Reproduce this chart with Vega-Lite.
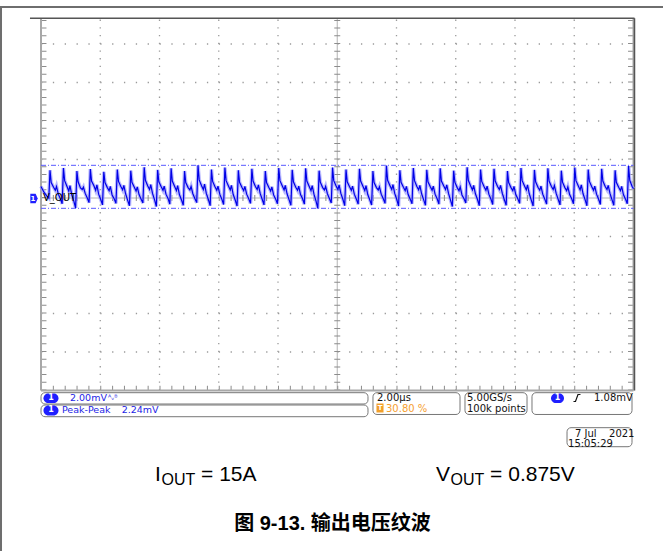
{
"$schema": "https://vega.github.io/schema/vega-lite/v6.json",
"width": 663, "height": 551, "padding": 0, "autosize": {"type": "none"},
"background": "white",
"config": {"view": {"stroke": null}},
"datasets": {
"pageFrame": [{"t":-0.692,"t2":10.498,"v":4.961,"v2":4.961},{"t":-0.675,"t2":-0.675,"v":4.961,"v2":-9.169}],
"scopeEdge": [{"t":-0.186,"t2":10.017,"v":4.667,"v2":4.667},{"t":10.017,"t2":10.017,"v":4.667,"v2":-5}],
"border": [{"t":0,"t2":0,"v":-5,"v2":4.667},{"t":10,"t2":10,"v":-5,"v2":4.667},{"t":0,"t2":10,"v":-5,"v2":-5}],
"edgeTicksV": [{"t":0.05,"t2":0.05,"v":-5,"v2":4.667},{"t":9.95,"t2":9.95,"v":-5,"v2":4.667}],
"edgeTicksH": [{"t":0,"t2":10,"v":-4.94,"v2":-4.94}],
"vgrid": [{"t":1,"t2":1,"v":-5,"v2":4.667},{"t":2,"t2":2,"v":-5,"v2":4.667},{"t":3,"t2":3,"v":-5,"v2":4.667},{"t":4,"t2":4,"v":-5,"v2":4.667},{"t":6,"t2":6,"v":-5,"v2":4.667},{"t":7,"t2":7,"v":-5,"v2":4.667},{"t":8,"t2":8,"v":-5,"v2":4.667},{"t":9,"t2":9,"v":-5,"v2":4.667}],
"hgrid": [{"t":0,"t2":10,"v":-4,"v2":-4},{"t":0,"t2":10,"v":-3,"v2":-3},{"t":0,"t2":10,"v":-2,"v2":-2},{"t":0,"t2":10,"v":-1,"v2":-1},{"t":0,"t2":10,"v":1,"v2":1},{"t":0,"t2":10,"v":2,"v2":2},{"t":0,"t2":10,"v":3,"v2":3},{"t":0,"t2":10,"v":4,"v2":4}],
"center": [{"t":5,"t2":5,"v":-5,"v2":4.667},{"t":0,"t2":10,"v":0,"v2":0}],
"centerTicksV": [{"t":5,"t2":5,"v":-5,"v2":4.667}],
"centerTicksH": [{"t":0,"t2":10,"v":0,"v2":0}],
"cursors": [{"t":0,"t2":10,"v":0.849,"v2":0.849},{"t":0,"t2":10,"v":-0.268,"v2":-0.268}],
"wave": [
{"t":0,"v":0.3},{"t":0.05,"v":0.15},{"t":0.1,"v":0.05},{"t":0.132,"v":0.0},
{"t":0.152,"v":0.72},{"t":0.172,"v":0.40},{"t":0.212,"v":0.28},{"t":0.242,"v":0.20},{"t":0.262,"v":0.30},{"t":0.292,"v":0.10},{"t":0.327,"v":-0.02},{"t":0.357,"v":-0.15},
{"t":0.379,"v":0.78},{"t":0.399,"v":0.45},{"t":0.439,"v":0.30},{"t":0.469,"v":0.18},{"t":0.489,"v":0.32},{"t":0.519,"v":0.08},{"t":0.554,"v":-0.08},{"t":0.584,"v":-0.26},
{"t":0.606,"v":0.70},{"t":0.626,"v":0.42},{"t":0.666,"v":0.26},{"t":0.696,"v":0.22},{"t":0.716,"v":0.28},{"t":0.746,"v":0.12},{"t":0.781,"v":0.00},{"t":0.811,"v":-0.12},
{"t":0.833,"v":0.75},{"t":0.853,"v":0.44},{"t":0.893,"v":0.32},{"t":0.923,"v":0.20},{"t":0.943,"v":0.34},{"t":0.973,"v":0.10},{"t":1.008,"v":-0.04},{"t":1.038,"v":-0.18},
{"t":1.060,"v":0.68},{"t":1.080,"v":0.40},{"t":1.120,"v":0.27},{"t":1.150,"v":0.19},{"t":1.170,"v":0.30},{"t":1.200,"v":0.08},{"t":1.235,"v":-0.02},{"t":1.265,"v":-0.14},
{"t":1.288,"v":0.74},{"t":1.308,"v":0.43},{"t":1.348,"v":0.30},{"t":1.378,"v":0.21},{"t":1.398,"v":0.33},{"t":1.428,"v":0.11},{"t":1.463,"v":-0.06},{"t":1.493,"v":-0.20},
{"t":1.515,"v":0.71},{"t":1.535,"v":0.41},{"t":1.575,"v":0.28},{"t":1.605,"v":0.18},{"t":1.625,"v":0.29},{"t":1.655,"v":0.09},{"t":1.690,"v":-0.03},{"t":1.720,"v":-0.13},
{"t":1.742,"v":0.80},{"t":1.762,"v":0.46},{"t":1.802,"v":0.31},{"t":1.832,"v":0.22},{"t":1.852,"v":0.35},{"t":1.882,"v":0.12},{"t":1.917,"v":-0.05},{"t":1.947,"v":-0.22},
{"t":1.969,"v":0.73},{"t":1.989,"v":0.42},{"t":2.029,"v":0.29},{"t":2.059,"v":0.20},{"t":2.079,"v":0.31},{"t":2.109,"v":0.10},{"t":2.144,"v":-0.01},{"t":2.174,"v":-0.16},
{"t":2.196,"v":0.77},{"t":2.216,"v":0.44},{"t":2.256,"v":0.30},{"t":2.286,"v":0.19},{"t":2.306,"v":0.32},{"t":2.336,"v":0.09},{"t":2.371,"v":-0.05},{"t":2.401,"v":-0.19},
{"t":2.423,"v":0.70},{"t":2.443,"v":0.40},{"t":2.483,"v":0.27},{"t":2.513,"v":0.21},{"t":2.533,"v":0.30},{"t":2.563,"v":0.11},{"t":2.598,"v":-0.02},{"t":2.628,"v":-0.12},
{"t":2.650,"v":0.85},{"t":2.670,"v":0.47},{"t":2.710,"v":0.32},{"t":2.740,"v":0.22},{"t":2.760,"v":0.36},{"t":2.790,"v":0.12},{"t":2.825,"v":-0.04},{"t":2.855,"v":-0.20},
{"t":2.877,"v":0.74},{"t":2.897,"v":0.43},{"t":2.937,"v":0.29},{"t":2.967,"v":0.20},{"t":2.987,"v":0.31},{"t":3.017,"v":0.10},{"t":3.052,"v":-0.03},{"t":3.082,"v":-0.17},
{"t":3.104,"v":0.79},{"t":3.124,"v":0.45},{"t":3.164,"v":0.31},{"t":3.194,"v":0.21},{"t":3.214,"v":0.33},{"t":3.244,"v":0.09},{"t":3.279,"v":-0.06},{"t":3.309,"v":-0.21},
{"t":3.331,"v":0.72},{"t":3.351,"v":0.41},{"t":3.391,"v":0.28},{"t":3.421,"v":0.19},{"t":3.441,"v":0.30},{"t":3.471,"v":0.10},{"t":3.506,"v":-0.02},{"t":3.536,"v":-0.14},
{"t":3.559,"v":0.76},{"t":3.579,"v":0.44},{"t":3.619,"v":0.30},{"t":3.649,"v":0.22},{"t":3.669,"v":0.34},{"t":3.699,"v":0.12},{"t":3.734,"v":-0.04},{"t":3.764,"v":-0.18},
{"t":3.786,"v":0.70},{"t":3.806,"v":0.40},{"t":3.846,"v":0.27},{"t":3.876,"v":0.18},{"t":3.896,"v":0.29},{"t":3.926,"v":0.08},{"t":3.961,"v":-0.03},{"t":3.991,"v":-0.15},
{"t":4.013,"v":0.78},{"t":4.033,"v":0.45},{"t":4.073,"v":0.31},{"t":4.103,"v":0.21},{"t":4.123,"v":0.33},{"t":4.153,"v":0.11},{"t":4.188,"v":-0.05},{"t":4.218,"v":-0.19},
{"t":4.240,"v":0.73},{"t":4.260,"v":0.42},{"t":4.300,"v":0.28},{"t":4.330,"v":0.20},{"t":4.350,"v":0.31},{"t":4.380,"v":0.09},{"t":4.415,"v":-0.02},{"t":4.445,"v":-0.16},
{"t":4.467,"v":0.77},{"t":4.487,"v":0.44},{"t":4.527,"v":0.30},{"t":4.557,"v":0.19},{"t":4.577,"v":0.32},{"t":4.607,"v":0.10},{"t":4.642,"v":-0.08},{"t":4.672,"v":-0.27},
{"t":4.694,"v":0.71},{"t":4.714,"v":0.41},{"t":4.754,"v":0.27},{"t":4.784,"v":0.21},{"t":4.804,"v":0.30},{"t":4.834,"v":0.11},{"t":4.869,"v":-0.02},{"t":4.899,"v":-0.13},
{"t":4.921,"v":0.79},{"t":4.941,"v":0.45},{"t":4.981,"v":0.31},{"t":5.011,"v":0.22},{"t":5.031,"v":0.34},{"t":5.061,"v":0.12},{"t":5.096,"v":-0.04},{"t":5.126,"v":-0.20},
{"t":5.148,"v":0.74},{"t":5.168,"v":0.42},{"t":5.208,"v":0.29},{"t":5.238,"v":0.20},{"t":5.258,"v":0.31},{"t":5.288,"v":0.10},{"t":5.323,"v":-0.03},{"t":5.353,"v":-0.16},
{"t":5.375,"v":0.76},{"t":5.395,"v":0.44},{"t":5.435,"v":0.30},{"t":5.465,"v":0.19},{"t":5.485,"v":0.32},{"t":5.515,"v":0.09},{"t":5.550,"v":-0.05},{"t":5.580,"v":-0.18},
{"t":5.602,"v":0.70},{"t":5.622,"v":0.40},{"t":5.662,"v":0.27},{"t":5.692,"v":0.21},{"t":5.712,"v":0.29},{"t":5.742,"v":0.10},{"t":5.777,"v":-0.02},{"t":5.807,"v":-0.14},
{"t":5.830,"v":0.84},{"t":5.850,"v":0.46},{"t":5.890,"v":0.32},{"t":5.920,"v":0.22},{"t":5.940,"v":0.35},{"t":5.970,"v":0.12},{"t":6.005,"v":-0.04},{"t":6.035,"v":-0.21},
{"t":6.057,"v":0.72},{"t":6.077,"v":0.41},{"t":6.117,"v":0.28},{"t":6.147,"v":0.19},{"t":6.167,"v":0.30},{"t":6.197,"v":0.09},{"t":6.232,"v":-0.03},{"t":6.262,"v":-0.15},
{"t":6.284,"v":0.78},{"t":6.304,"v":0.45},{"t":6.344,"v":0.30},{"t":6.374,"v":0.21},{"t":6.394,"v":0.33},{"t":6.424,"v":0.11},{"t":6.459,"v":-0.05},{"t":6.489,"v":-0.19},
{"t":6.511,"v":0.73},{"t":6.531,"v":0.42},{"t":6.571,"v":0.29},{"t":6.601,"v":0.20},{"t":6.621,"v":0.31},{"t":6.651,"v":0.10},{"t":6.686,"v":-0.02},{"t":6.716,"v":-0.16},
{"t":6.738,"v":0.77},{"t":6.758,"v":0.44},{"t":6.798,"v":0.31},{"t":6.828,"v":0.22},{"t":6.848,"v":0.34},{"t":6.878,"v":0.12},{"t":6.913,"v":-0.06},{"t":6.943,"v":-0.22},
{"t":6.965,"v":0.71},{"t":6.985,"v":0.41},{"t":7.025,"v":0.27},{"t":7.055,"v":0.19},{"t":7.075,"v":0.29},{"t":7.105,"v":0.08},{"t":7.140,"v":-0.02},{"t":7.170,"v":-0.13},
{"t":7.192,"v":0.80},{"t":7.212,"v":0.46},{"t":7.252,"v":0.31},{"t":7.282,"v":0.21},{"t":7.302,"v":0.33},{"t":7.332,"v":0.11},{"t":7.367,"v":-0.04},{"t":7.397,"v":-0.20},
{"t":7.419,"v":0.74},{"t":7.439,"v":0.43},{"t":7.479,"v":0.29},{"t":7.509,"v":0.20},{"t":7.529,"v":0.31},{"t":7.559,"v":0.10},{"t":7.594,"v":-0.03},{"t":7.624,"v":-0.17},
{"t":7.646,"v":0.76},{"t":7.666,"v":0.44},{"t":7.706,"v":0.30},{"t":7.736,"v":0.22},{"t":7.756,"v":0.33},{"t":7.786,"v":0.12},{"t":7.821,"v":-0.05},{"t":7.851,"v":-0.19},
{"t":7.873,"v":0.70},{"t":7.893,"v":0.40},{"t":7.933,"v":0.27},{"t":7.963,"v":0.19},{"t":7.983,"v":0.30},{"t":8.013,"v":0.09},{"t":8.048,"v":-0.02},{"t":8.078,"v":-0.14},
{"t":8.101,"v":0.78},{"t":8.121,"v":0.45},{"t":8.161,"v":0.31},{"t":8.191,"v":0.21},{"t":8.211,"v":0.34},{"t":8.241,"v":0.11},{"t":8.276,"v":-0.06},{"t":8.306,"v":-0.21},
{"t":8.328,"v":0.73},{"t":8.348,"v":0.42},{"t":8.388,"v":0.28},{"t":8.418,"v":0.20},{"t":8.438,"v":0.31},{"t":8.468,"v":0.10},{"t":8.503,"v":-0.03},{"t":8.533,"v":-0.16},
{"t":8.555,"v":0.77},{"t":8.575,"v":0.44},{"t":8.615,"v":0.30},{"t":8.645,"v":0.22},{"t":8.665,"v":0.32},{"t":8.695,"v":0.12},{"t":8.730,"v":-0.04},{"t":8.760,"v":-0.18},
{"t":8.782,"v":0.71},{"t":8.802,"v":0.41},{"t":8.842,"v":0.27},{"t":8.872,"v":0.19},{"t":8.892,"v":0.29},{"t":8.922,"v":0.09},{"t":8.957,"v":-0.02},{"t":8.987,"v":-0.15},
{"t":9.009,"v":0.79},{"t":9.029,"v":0.45},{"t":9.069,"v":0.31},{"t":9.099,"v":0.21},{"t":9.119,"v":0.34},{"t":9.149,"v":0.11},{"t":9.184,"v":-0.05},{"t":9.214,"v":-0.20},
{"t":9.236,"v":0.74},{"t":9.256,"v":0.43},{"t":9.296,"v":0.29},{"t":9.326,"v":0.20},{"t":9.346,"v":0.31},{"t":9.376,"v":0.10},{"t":9.411,"v":-0.03},{"t":9.441,"v":-0.17},
{"t":9.463,"v":0.76},{"t":9.483,"v":0.44},{"t":9.523,"v":0.30},{"t":9.553,"v":0.22},{"t":9.573,"v":0.33},{"t":9.603,"v":0.12},{"t":9.638,"v":-0.05},{"t":9.668,"v":-0.19},
{"t":9.690,"v":0.72},{"t":9.710,"v":0.41},{"t":9.750,"v":0.28},{"t":9.780,"v":0.19},{"t":9.800,"v":0.30},{"t":9.830,"v":0.09},{"t":9.865,"v":-0.03},{"t":9.895,"v":-0.15},
{"t":9.917,"v":0.83},{"t":9.937,"v":0.46},{"t":9.977,"v":0.30},{"t":10.0,"v":0.24}
],
"chMarker": [{"t":-0.118,"v":-0.013}],
"voutLabel": [{"t":0.034,"v":0.013,"s":"V_OUT"}],
"boxes": [
{"t":0,"t2":5.519,"v":-5.057,"v2":-5.351},
{"t":0,"t2":5.519,"v":-5.377,"v2":-5.681},
{"t":5.603,"t2":7.072,"v":-5.057,"v2":-5.623},
{"t":7.156,"t2":8.203,"v":-5.057,"v2":-5.623},
{"t":8.287,"t2":9.975,"v":-5.057,"v2":-5.623},
{"t":8.878,"t2":9.975,"v":-5.966,"v2":-6.46}
],
"badges": [
{"t":0.042,"t2":0.295,"v":-5.078,"v2":-5.325},
{"t":0.042,"t2":0.295,"v":-5.39,"v2":-5.649},
{"t":8.608,"t2":8.827,"v":-5.078,"v2":-5.325}
],
"badgeText": [{"t":0.169,"v":-5.203,"s":"1"},{"t":0.169,"v":-5.519,"s":"1"},{"t":8.717,"v":-5.203,"s":"1"}],
"blueText": [{"t":0.489,"v":-5.203,"s":"2.00mV"},{"t":0.354,"v":-5.519,"s":"Peak-Peak"},{"t":1.362,"v":-5.519,"s":"2.24mV"}],
"bwText": [{"t":1.13,"v":-5.2,"s":"ᴬᵥᴮ"}],
"blackText": [
{"t":5.671,"v":-5.195,"s":"2.00µs"},
{"t":7.19,"v":-5.195,"s":"5.00GS/s"},
{"t":7.19,"v":-5.468,"s":"100k points"},
{"t":9.333,"v":-5.195,"s":"1.08mV"},
{"t":9.013,"v":-6.117,"s":"7 Jul"},
{"t":9.587,"v":-6.117,"s":"2021"},
{"t":8.895,"v":-6.377,"s":"15:05:29"}
],
"orangeIcon": [{"t":5.662,"t2":5.781,"v":-5.338,"v2":-5.571}],
"orangeIconText": [{"t":5.722,"v":-5.455,"s":"T"}],
"orangeText": [{"t":5.823,"v":-5.468,"s":"30.80 %"}],
"trig": [{"t":8.987,"v":-5.286},{"t":9.021,"v":-5.286},{"t":9.063,"v":-5.104},{"t":9.105,"v":-5.104}],
"capBig": [
{"t":1.924,"v":-7.351,"s":"I"},
{"t":2.702,"v":-7.351,"s":"= 15A"},
{"t":6.667,"v":-7.351,"s":"V"},
{"t":7.58,"v":-7.351,"s":"= 0.875V"}
],
"capSub": [{"t":2.034,"v":-7.455,"s":"OUT"},{"t":6.911,"v":-7.455,"s":"OUT"}],
"title": [{"t":4.92,"v":-8.455,"s":"图 9-13. 输出电压纹波"}]
},
"encoding": {
"x": {"field": "t", "type": "quantitative", "scale": {"domain": [-0.692, 10.498], "nice": false, "zero": false}, "axis": null},
"y": {"field": "v", "type": "quantitative", "scale": {"domain": [-9.169, 5.143], "nice": false, "zero": false}, "axis": null}
},
"layer": [
{"data": {"name": "pageFrame"}, "mark": {"type": "rule", "color": "#6e6e6e", "strokeWidth": 2}, "encoding": {"x2": {"field": "t2"}, "y2": {"field": "v2"}}},
{"data": {"name": "vgrid"}, "mark": {"type": "rule", "color": "#9a9a9a", "strokeWidth": 1.3, "strokeDash": [1.3, 6.4]}, "encoding": {"x2": {"field": "t2"}, "y2": {"field": "v2"}}},
{"data": {"name": "hgrid"}, "mark": {"type": "rule", "color": "#9a9a9a", "strokeWidth": 1.3, "strokeDash": [1.3, 10.55]}, "encoding": {"x2": {"field": "t2"}, "y2": {"field": "v2"}}},
{"data": {"name": "center"}, "mark": {"type": "rule", "color": "#b4b4b4", "strokeWidth": 1}, "encoding": {"x2": {"field": "t2"}, "y2": {"field": "v2"}}},
{"data": {"name": "centerTicksV"}, "mark": {"type": "rule", "color": "#8c8c8c", "strokeWidth": 6, "strokeDash": [1, 6.7]}, "encoding": {"x2": {"field": "t2"}, "y2": {"field": "v2"}}},
{"data": {"name": "centerTicksH"}, "mark": {"type": "rule", "color": "#8c8c8c", "strokeWidth": 6, "strokeDash": [1, 10.85]}, "encoding": {"x2": {"field": "t2"}, "y2": {"field": "v2"}}},
{"data": {"name": "edgeTicksV"}, "mark": {"type": "rule", "color": "#8c8c8c", "strokeWidth": 5, "strokeDash": [1, 6.7]}, "encoding": {"x2": {"field": "t2"}, "y2": {"field": "v2"}}},
{"data": {"name": "edgeTicksH"}, "mark": {"type": "rule", "color": "#8c8c8c", "strokeWidth": 5, "strokeDash": [1, 10.85]}, "encoding": {"x2": {"field": "t2"}, "y2": {"field": "v2"}}},
{"data": {"name": "border"}, "mark": {"type": "rule", "color": "#a8a8a8", "strokeWidth": 2}, "encoding": {"x2": {"field": "t2"}, "y2": {"field": "v2"}}},
{"data": {"name": "scopeEdge"}, "mark": {"type": "rule", "color": "#555555", "strokeWidth": 1.5}, "encoding": {"x2": {"field": "t2"}, "y2": {"field": "v2"}}},
{"data": {"name": "cursors"}, "mark": {"type": "rule", "color": "#5a5aff", "strokeWidth": 1, "strokeDash": [5, 2, 1, 2]}, "encoding": {"x2": {"field": "t2"}, "y2": {"field": "v2"}}},
{"data": {"name": "wave"}, "mark": {"type": "line", "color": "#9c9cff", "strokeWidth": 3.6, "opacity": 0.7}, "encoding": {}},
{"data": {"name": "wave"}, "mark": {"type": "line", "color": "#0000e6", "strokeWidth": 1.2}, "encoding": {}},
{"data": {"name": "chMarker"}, "mark": {"type": "point", "shape": "M-0.8,-1L0.35,-1L0.8,0L0.35,1L-0.8,1Z", "size": 86, "filled": true, "color": "#2020ff", "opacity": 1}},
{"data": {"name": "chMarker"}, "mark": {"type": "text", "text": "1", "color": "white", "fontSize": 7, "font": "DejaVu Sans", "fontWeight": "bold", "baseline": "middle", "align": "center", "dx": -1}},
{"data": {"name": "voutLabel"}, "mark": {"type": "text", "align": "left", "baseline": "middle", "font": "DejaVu Sans", "fontSize": 10, "color": "#000000"}, "encoding": {"text": {"field": "s"}}},
{"data": {"name": "boxes"}, "mark": {"type": "rect", "fill": "white", "stroke": "#777777", "strokeWidth": 1, "cornerRadius": 4}, "encoding": {"x2": {"field": "t2"}, "y2": {"field": "v2"}}},
{"data": {"name": "badges"}, "mark": {"type": "rect", "fill": "#1f1fff", "cornerRadius": 5}, "encoding": {"x2": {"field": "t2"}, "y2": {"field": "v2"}}},
{"data": {"name": "badgeText"}, "mark": {"type": "text", "align": "center", "baseline": "middle", "font": "DejaVu Sans", "fontSize": 8, "fontWeight": "bold", "color": "white"}, "encoding": {"text": {"field": "s"}}},
{"data": {"name": "blueText"}, "mark": {"type": "text", "align": "left", "baseline": "middle", "font": "DejaVu Sans", "fontSize": 9.5, "color": "#2424e6"}, "encoding": {"text": {"field": "s"}}},
{"data": {"name": "bwText"}, "mark": {"type": "text", "align": "left", "baseline": "middle", "font": "DejaVu Sans", "fontSize": 7.5, "color": "#2424e6"}, "encoding": {"text": {"field": "s"}}},
{"data": {"name": "blackText"}, "mark": {"type": "text", "align": "left", "baseline": "middle", "font": "DejaVu Sans", "fontSize": 10, "color": "#111111"}, "encoding": {"text": {"field": "s"}}},
{"data": {"name": "orangeIcon"}, "mark": {"type": "rect", "fill": "#f2a02a"}, "encoding": {"x2": {"field": "t2"}, "y2": {"field": "v2"}}},
{"data": {"name": "orangeIconText"}, "mark": {"type": "text", "align": "center", "baseline": "middle", "font": "DejaVu Sans", "fontSize": 7, "fontWeight": "bold", "color": "white"}, "encoding": {"text": {"field": "s"}}},
{"data": {"name": "orangeText"}, "mark": {"type": "text", "align": "left", "baseline": "middle", "font": "DejaVu Sans", "fontSize": 10, "color": "#f5a030"}, "encoding": {"text": {"field": "s"}}},
{"data": {"name": "trig"}, "mark": {"type": "line", "color": "#111111", "strokeWidth": 1.2}, "encoding": {}},
{"data": {"name": "capBig"}, "mark": {"type": "text", "align": "left", "baseline": "alphabetic", "font": "Liberation Sans", "fontSize": 21, "color": "#000000"}, "encoding": {"text": {"field": "s"}}},
{"data": {"name": "capSub"}, "mark": {"type": "text", "align": "left", "baseline": "alphabetic", "font": "Liberation Sans", "fontSize": 16, "color": "#000000"}, "encoding": {"text": {"field": "s"}}},
{"data": {"name": "title"}, "mark": {"type": "text", "align": "center", "baseline": "middle", "font": "Liberation Sans, Noto Sans CJK SC", "fontSize": 20, "fontWeight": "bold", "color": "#000000"}, "encoding": {"text": {"field": "s"}}}
]
}
